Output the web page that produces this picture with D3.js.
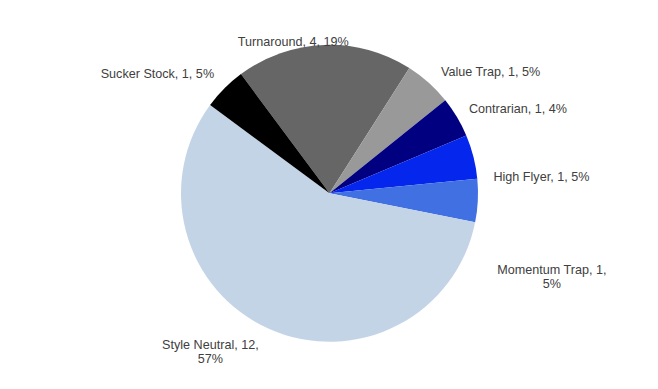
<!DOCTYPE html>
<html>
<head>
<meta charset="utf-8">
<script src="https://cdn.jsdelivr.net/npm/d3@7"></script>
<style>
  html, body { margin: 0; padding: 0; background: #fff; }
  svg { display: block; }
</style>
</head>
<body>
<svg id="chart"></svg>
<script>
// chart data
const categories = ["Turnaround", "Value Trap", "Contrarian", "High Flyer", "Momentum Trap", "Style Neutral", "Sucker Stock"];
const counts = [4, 1, 1, 1, 1, 12, 1];
const shares = [19.2, 5.2, 4.4, 4.8, 4.7, 57.0, 4.7];
const colors = ["#666666", "#999999", "#000080", "#0526EC", "#4170E3", "#C4D4E7", "#000000"];

// label layout (offset from outer arc point, first-line baseline), and line wrapping
const labelOffsets = [[-31, 1], [62, -7], [61, -4], [68, 24], [74, 73], [-59, 20], [-67, -10]];
const labelWrap = [false, false, false, false, true, true, false];

const width = 658;
const height = 389;
const cx = 329.5, cy = 193.3, radius = 148.5;
const startDeg = -36.6;

const svg = d3.select("#chart")
    .attr("width", width)
    .attr("height", height)
    .style("font", "12.6px 'Liberation Sans', Arial, sans-serif");

const pie = d3.pie()
    .sort(null)
    .value(d => d.share)
    .startAngle(startDeg * Math.PI / 180)
    .endAngle((startDeg + 360) * Math.PI / 180);

const data = categories.map((c, i) => ({
    name: c,
    count: counts[i],
    share: shares[i],
    color: colors[i],
    off: labelOffsets[i],
    wrap: labelWrap[i]
}));

const arcs = pie(data);
const arc = d3.arc().innerRadius(0).outerRadius(radius);

const g = svg.append("g").attr("transform", `translate(${cx},${cy})`);

g.selectAll("path")
    .data(arcs)
    .join("path")
    .attr("d", arc)
    .attr("fill", d => d.data.color);

// labels
const label = g.selectAll("text")
    .data(arcs)
    .join("text")
    .attr("fill", "#404040")
    .attr("text-anchor", "middle")
    .attr("transform", d => {
        const a = (d.startAngle + d.endAngle) / 2;
        const x = Math.sin(a) * radius + d.data.off[0];
        const y = -Math.cos(a) * radius + d.data.off[1];
        return `translate(${x},${y})`;
    });

label.selectAll("tspan")
    .data(d => {
        const pct = Math.round(d.data.share) + "%";
        if (d.data.wrap) return [`${d.data.name}, ${d.data.count},`, pct];
        return [`${d.data.name}, ${d.data.count}, ${pct}`];
    })
    .join("tspan")
    .attr("x", 0)
    .attr("y", (d, i) => i * 14)
    .text(d => d);
</script>
</body>
</html>
